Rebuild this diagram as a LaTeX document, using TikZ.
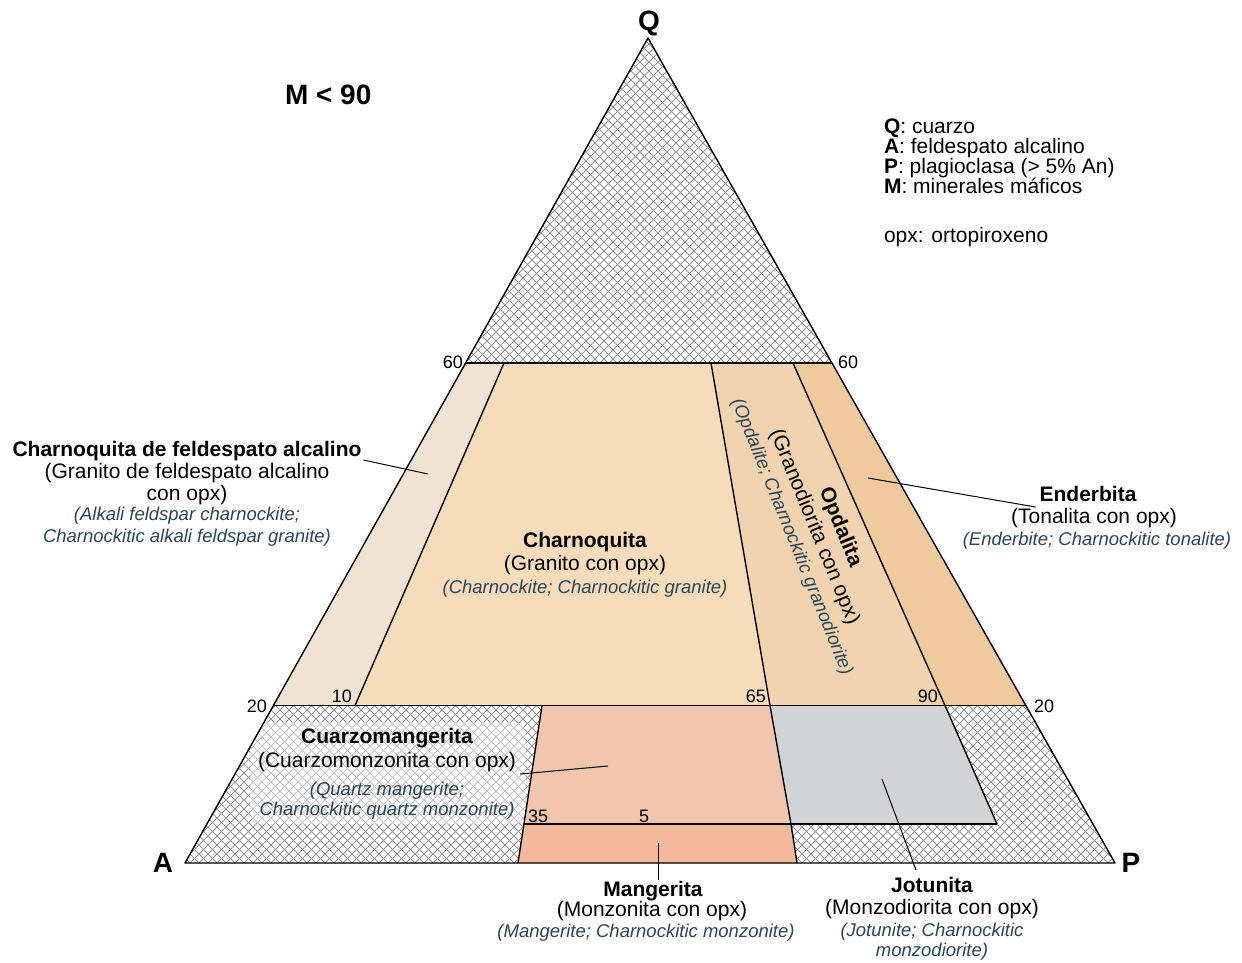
\documentclass[tikz,border=0pt]{standalone}
\usepackage{fontspec}
\setmainfont{Liberation Sans}
\definecolor{alkfill}{HTML}{F1E3D3}
\definecolor{charnofill}{HTML}{F7DCBC}
\definecolor{opdafill}{HTML}{F2D3B0}
\definecolor{enderfill}{HTML}{EECA9E}
\definecolor{mangupfill}{HTML}{F2C5AF}
\definecolor{manglowfill}{HTML}{F4B99D}
\definecolor{jotufill}{HTML}{D1D3D5}
\definecolor{engblue}{HTML}{2A4658}
% cross-hatching: two families of 45-degree lines, to be used inside a clip
\newcommand\qaphatch{%
  \foreach \c in {-970,-961,...,1250} {\draw[hatch] (\c,0) -- ++(1000,1000);}
  \foreach \c in {0,9,...,2220} {\draw[hatch] (\c,0) -- ++(-1000,1000);}
}
\begin{document}
\begin{tikzpicture}[x=1pt,y=-1pt,
  every node/.style={inner sep=0pt, outer sep=0pt},
  edge/.style={line width=1.4pt, line join=round},
  hatch/.style={draw=black!42, line width=0.75pt},
  rname/.style={font=\bfseries\fontsize{21}{23}\selectfont, anchor=base},
  rsp/.style={font=\fontsize{21}{23}\selectfont, anchor=base},
  ren/.style={font=\itshape\fontsize{18.5}{21}\selectfont, text=engblue, anchor=base},
  num/.style={font=\fontsize{18}{20}\selectfont, anchor=base},
  vertex/.style={font=\bfseries\fontsize{28}{30}\selectfont, anchor=base},
  legend/.style={font=\fontsize{21}{21}\selectfont, anchor=base west},
  leader/.style={line width=1pt},
]
\useasboundingbox (0,0) rectangle (1242,962);

% corners of the QAP triangle and the field boundaries
\coordinate (A) at (185,863);
\coordinate (P) at (1115,863);
\coordinate (Q) at (648,38);
\coordinate (L60) at (465.6,363);
\coordinate (R60) at (832,363);
\coordinate (L20) at (273.4,705.5);
\coordinate (R20) at (1026,705.5);
\coordinate (t10) at (504,363);
\coordinate (b10) at (355,705.5);
\coordinate (t65) at (711,363);
\coordinate (b65) at (770,705.5);
\coordinate (c65) at (791,824);
\coordinate (d65) at (797,863);
\coordinate (t90) at (793,363);
\coordinate (b90) at (945,705.5);
\coordinate (c90) at (997,824);
\coordinate (b35) at (542,705.5);
\coordinate (c35) at (524,824);
\coordinate (d35) at (518,863);

% coloured fields
\fill[alkfill] (L60) -- (t10) -- (b10) -- (L20) -- cycle;
\fill[charnofill] (t10) -- (t65) -- (b65) -- (b10) -- cycle;
\fill[opdafill] (t65) -- (t90) -- (b90) -- (b65) -- cycle;
\fill[enderfill] (t90) -- (R60) -- (R20) -- (b90) -- cycle;
\fill[mangupfill] (b35) -- (b65) -- (c65) -- (c35) -- cycle;
\fill[manglowfill] (c35) -- (c65) -- (d65) -- (d35) -- cycle;
\fill[jotufill] (b65) -- (b90) -- (c90) -- (c65) -- cycle;

% hatched fields
\begin{scope}
  \clip (Q) -- (L60) -- (R60) -- cycle;
  \qaphatch
\end{scope}
\begin{scope}
  \clip (L20) -- (b35) -- (c35) -- (d35) -- (A) -- cycle;
  \qaphatch
  % lighter ground under the quartz mangerite labels
  \fill[white, opacity=0.45, rounded corners=12pt] (250,722) rectangle (526,824);
\end{scope}
\begin{scope}
  \clip (b90) -- (R20) -- (P) -- (d65) -- (c65) -- (c90) -- cycle;
  \qaphatch
\end{scope}

% boundaries
\draw[edge] (A) -- (P) -- (Q) -- cycle;
\draw[edge] (L60) -- (R60);
\draw[edge] (L20) -- (R20);
\draw[edge] (t10) -- (b10);
\draw[edge] (t65) -- (b65) -- (c65) -- (d65);
\draw[edge] (t90) -- (b90) -- (c90);
\draw[edge] (b35) -- (d35);
\draw[edge] (c35) -- (c90);

% apices
\node[vertex] (lQ) at (649,30) {Q};
\node[vertex] (lA) at (163,872) {A};
\node[vertex] (lP) at (1131,872) {P};

% scale values
\node[num, anchor=base east] (n60l) at (463,368) {60};
\node[num, anchor=base west] (n60r) at (838,368) {60};
\node[num, anchor=base east] (n20l) at (267,712) {20};
\node[num, anchor=base west] (n20r) at (1034,712) {20};
\node[num, anchor=base east] (n10) at (352,702) {10};
\node[num, anchor=base east] (n65) at (766,702) {65};
\node[num, anchor=base east] (n90) at (938,702) {90};
\node[num, anchor=base west] (n35) at (528,822) {35};
\node[num, anchor=base west] (n5) at (639,822) {5};

% heading and key
\node[font=\bfseries\fontsize{28}{30}\selectfont, anchor=base west] (mtitle) at (285,104) {M < 90};
\node[legend] (kq) at (884,133) {\textbf{Q}: cuarzo};
\node[legend] (ka) at (884,153) {\textbf{A}: feldespato alcalino};
\node[legend] (kp) at (884,173) {\textbf{P}: plagioclasa (> 5\% An)};
\node[legend] (km) at (884,193) {\textbf{M}: minerales máficos};
\node[legend] (kopx) at (884,242) {opx: ortopiroxeno};

% alkali feldspar charnockite
\node[rname] (alk1) at (187,456) {Charnoquita de feldespato alcalino};
\node[rsp] (alk2) at (187,478) {(Granito de feldespato alcalino};
\node[rsp] (alk3) at (187,500) {con opx)};
\node[ren] (alk4) at (187,520) {(Alkali feldspar charnockite;};
\node[ren] (alk5) at (187,542) {Charnockitic alkali feldspar granite)};
\coordinate (alkpt) at (428,474);
\draw[leader] ([xshift=2pt,yshift=-4pt]alk1.base east) -- (alkpt);

% charnockite
\node[rname] (ch1) at (585,547) {Charnoquita};
\node[rsp] (ch2) at (585,570) {(Granito con opx)};
\node[ren] (ch3) at (585,593) {(Charnockite; Charnockitic granite)};

% opdalite, written along the field
\begin{scope}[shift={(809,529)}, rotate=-68, transform shape]
  \node[rname] (op1) at (10,-24) {Opdalita};
  \node[rsp] (op2) at (0,0) {(Granodiorita con opx)};
  \node[ren] (op3) at (1,24) {(Opdalite; Charnockitic granodiorite)};
\end{scope}

% enderbite
\node[rname] (en1) at (1088,501) {Enderbita};
\node[rsp] (en2) at (1094,523) {(Tonalita con opx)};
\node[ren] (en3) at (1097,545) {(Enderbite; Charnockitic tonalite)};
\coordinate (enpt) at (868,478);
\draw[leader] ([xshift=-4pt,yshift=-6pt]en1.base west) -- (enpt);

% quartz mangerite
\node[rname] (qm1) at (387,743) {Cuarzomangerita};
\node[rsp] (qm2) at (387,767) {(Cuarzomonzonita con opx)};
\node[ren] (qm3) at (387,795) {(Quartz mangerite;};
\node[ren] (qm4) at (387,815) {Charnockitic quartz monzonite)};
\coordinate (qmpt) at (608,766);
\draw[leader] ([xshift=4pt,yshift=-7pt]qm2.base east) -- (qmpt);

% mangerite
\node[rname] (mg1) at (653,896) {Mangerita};
\node[rsp] (mg2) at (652,916) {(Monzonita con opx)};
\node[ren] (mg3) at (646,937) {(Mangerite; Charnockitic monzonite)};
\coordinate (mgpt) at (658,843);
\draw[leader] (mgpt) -- (658,880);

% jotunite
\node[rname] (jo1) at (932,892) {Jotunita};
\node[rsp] (jo2) at (932,914) {(Monzodiorita con opx)};
\node[ren] (jo3) at (932,936) {(Jotunite; Charnockitic};
\node[ren] (jo4) at (932,956) {monzodiorite)};
\coordinate (jopt) at (882,779);
\draw[leader] (jopt) -- (916,870);
\end{tikzpicture}
\end{document}
